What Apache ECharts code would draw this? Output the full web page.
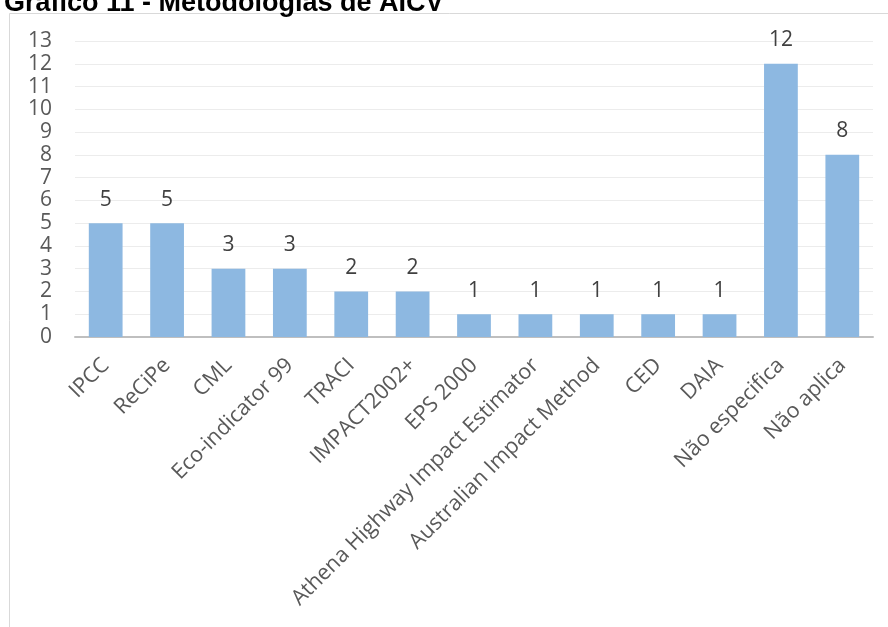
<!DOCTYPE html>
<html>
<head>
<meta charset="utf-8">
<script src="https://cdn.jsdelivr.net/npm/echarts@6/dist/echarts.min.js"></script>
<style>
  html, body { margin: 0; padding: 0; background: #ffffff; }
  #chart { width: 888px; height: 627px; }
</style>
</head>
<body>
<div id="chart"></div>
<script>
// Metodologias de AICV: número de estudos por método
const categories = [
  'IPCC', 'ReCiPe', 'CML', 'Eco-indicator 99', 'TRACI', 'IMPACT2002+',
  'EPS 2000', 'Athena Highway Impact Estimator', 'Australian Impact Method',
  'CED', 'DAIA', 'Não especifica', 'Não aplica'
];
const counts = [5, 5, 3, 3, 2, 2, 1, 1, 1, 1, 1, 12, 8];
const yTicks = { min: 0, max: 13, step: 1 };
const chartTitle = 'Gráfico 11 - Metodologias de AICV';

const textFont = '"Open Sans", "DejaVu Sans", sans-serif';

const chart = echarts.init(document.getElementById('chart'), null, { renderer: 'canvas' });
chart.setOption({
  animation: false,
  backgroundColor: '#ffffff',
  title: {
    text: chartTitle,
    left: -1,
    top: -15,
    textStyle: {
      fontFamily: '"Liberation Sans", Arial, sans-serif',
      fontWeight: 'bold',
      fontSize: 27,
      color: '#000000'
    }
  },
  graphic: [{
    type: 'rect',
    silent: true,
    z: -1,
    shape: { x: 9.5, y: 13.5, width: 900, height: 700 },
    style: { fill: 'none', stroke: '#d9d9d9', lineWidth: 1 }
  }],
  grid: { left: 75, right: 15, top: 41, bottom: 290, containLabel: false },
  xAxis: {
    type: 'category',
    data: categories,
    axisTick: { show: false },
    axisLine: { show: true, lineStyle: { color: '#bfbfbf', width: 2 } },
    axisLabel: {
      interval: 0,
      rotate: 45,
      margin: 25,
      fontFamily: textFont,
      fontSize: 21.5,
      color: '#595959'
    }
  },
  yAxis: {
    type: 'value',
    min: yTicks.min,
    max: yTicks.max,
    interval: yTicks.step,
    axisLine: { show: false },
    axisTick: { show: false },
    splitLine: { lineStyle: { color: '#ececec', width: 1 } },
    axisLabel: {
      margin: 23,
      fontFamily: textFont,
      fontSize: 21,
      color: '#595959'
    }
  },
  series: [{
    type: 'bar',
    data: counts,
    barWidth: '55%',
    itemStyle: { color: '#8db8e1' },
    label: {
      show: true,
      position: 'top',
      distance: 13,
      fontFamily: textFont,
      fontSize: 21,
      color: '#404040'
    }
  }]
});
</script>
</body>
</html>
